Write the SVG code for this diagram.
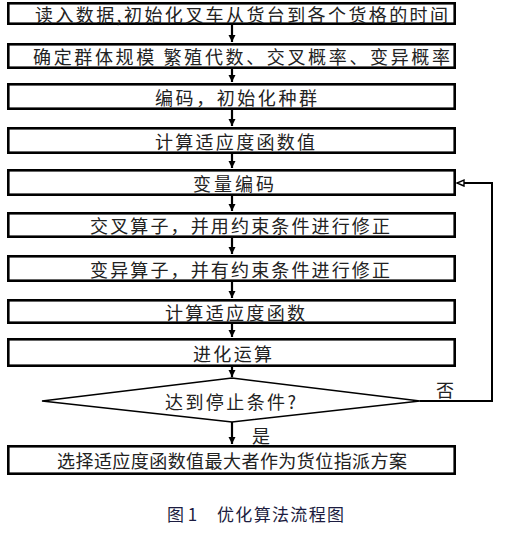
<svg xmlns="http://www.w3.org/2000/svg" width="505" height="535" viewBox="0 0 505 535">
<style>
.box{fill:#fff;stroke:#000;stroke-width:2.6}
.dia{fill:#fff;stroke:#000;stroke-width:1.6}
.t{font-family:"Noto Sans CJK SC","Noto Sans",sans-serif;font-size:18px;fill:#222;dominant-baseline:central}
.c{font-family:"Noto Sans CJK SC","Noto Sans",sans-serif;font-size:17px;fill:#1c1c40;dominant-baseline:central}
.ln{fill:none;stroke:#000;stroke-width:2.2}
.fb{fill:none;stroke:#000;stroke-width:2}
</style>
<defs>
<marker id="ah" markerUnits="userSpaceOnUse" markerWidth="10" markerHeight="10" refX="8" refY="5" orient="auto">
<path d="M1,1.5 L8,5 L1,8.5 Z" fill="#000"/>
</marker>
<marker id="oh" markerUnits="userSpaceOnUse" markerWidth="10" markerHeight="10" refX="8" refY="5" orient="auto">
<path d="M1,2 L8,5 L1,8 Z" fill="#fff" stroke="#000" stroke-width="1.4"/>
</marker>
</defs>
<g id="connectors">
<line class="ln" x1="232" y1="25" x2="232" y2="42" marker-end="url(#ah)"/>
<line class="ln" x1="232" y1="69" x2="232" y2="82" marker-end="url(#ah)"/>
<line class="ln" x1="232" y1="110" x2="232" y2="126" marker-end="url(#ah)"/>
<line class="ln" x1="232" y1="154" x2="232" y2="168" marker-end="url(#ah)"/>
<line class="ln" x1="232" y1="196" x2="232" y2="211" marker-end="url(#ah)"/>
<line class="ln" x1="232" y1="238" x2="232" y2="254" marker-end="url(#ah)"/>
<line class="ln" x1="232" y1="282" x2="232" y2="298" marker-end="url(#ah)"/>
<line class="ln" x1="232" y1="324" x2="232" y2="337" marker-end="url(#ah)"/>
<line class="ln" x1="232" y1="367" x2="232" y2="377" marker-end="url(#ah)"/>
<line class="ln" x1="232" y1="422" x2="232" y2="444" marker-end="url(#ah)"/>
<polyline class="fb" points="420,401 492,401 492,183 457,183" marker-end="url(#oh)"/>
<text class="t" x="252" y="435">是</text>
<text class="t" x="436" y="389">否</text>
</g>
<g id="n1"><rect class="box" x="8.3" y="3.3" width="446.4" height="20.4"/><text class="t" x="35" y="13.5" textLength="413" lengthAdjust="spacing">读入数据,初始化叉车从货台到各个货格的时间</text></g>
<g id="n2"><rect class="box" x="8.3" y="44.3" width="446.4" height="23.4"/><text class="t" x="33" y="56" textLength="417" lengthAdjust="spacing">确定群体规模 繁殖代数、交叉概率、变异概率</text></g>
<g id="n3"><rect class="box" x="8.3" y="84.3" width="446.4" height="24.4"/><text class="t" x="155" y="96.5" textLength="162" lengthAdjust="spacing">编码，初始化种群</text></g>
<g id="n4"><rect class="box" x="8.3" y="128.3" width="446.4" height="24.4"/><text class="t" x="155" y="140.5" textLength="160" lengthAdjust="spacing">计算适应度函数值</text></g>
<g id="n5"><rect class="box" x="8.3" y="170.3" width="446.4" height="24.4"/><text class="t" x="193" y="182.5" textLength="81" lengthAdjust="spacing">变量编码</text></g>
<g id="n6"><rect class="box" x="8.3" y="213.3" width="446.4" height="23.4"/><text class="t" x="90" y="225" textLength="300" lengthAdjust="spacing">交叉算子，并用约束条件进行修正</text></g>
<g id="n7"><rect class="box" x="8.3" y="256.3" width="446.4" height="24.4"/><text class="t" x="90" y="268.5" textLength="300" lengthAdjust="spacing">变异算子，并有约束条件进行修正</text></g>
<g id="n8"><rect class="box" x="8.3" y="300.3" width="446.4" height="22.4"/><text class="t" x="165" y="311.5" textLength="140" lengthAdjust="spacing">计算适应度函数</text></g>
<g id="n9"><rect class="box" x="8.3" y="339.3" width="446.4" height="26.4"/><text class="t" x="193" y="352.5" textLength="79" lengthAdjust="spacing">进化运算</text></g>
<g id="n10"><polygon class="dia" points="42,401 232,378 420,401 232,422"/><text class="t" x="165" y="401" textLength="131" lengthAdjust="spacing">达到停止条件?</text></g>
<g id="n11"><rect class="box" x="8.3" y="446.3" width="446.4" height="27.4"/><text class="t" x="57" y="460" textLength="350" lengthAdjust="spacing">选择适应度函数值最大者作为货位指派方案</text></g>
<g id="caption"><text class="c" x="167" y="513">图 1</text><text class="c" x="217" y="513" textLength="127" lengthAdjust="spacing">优化算法流程图</text></g>
</svg>
